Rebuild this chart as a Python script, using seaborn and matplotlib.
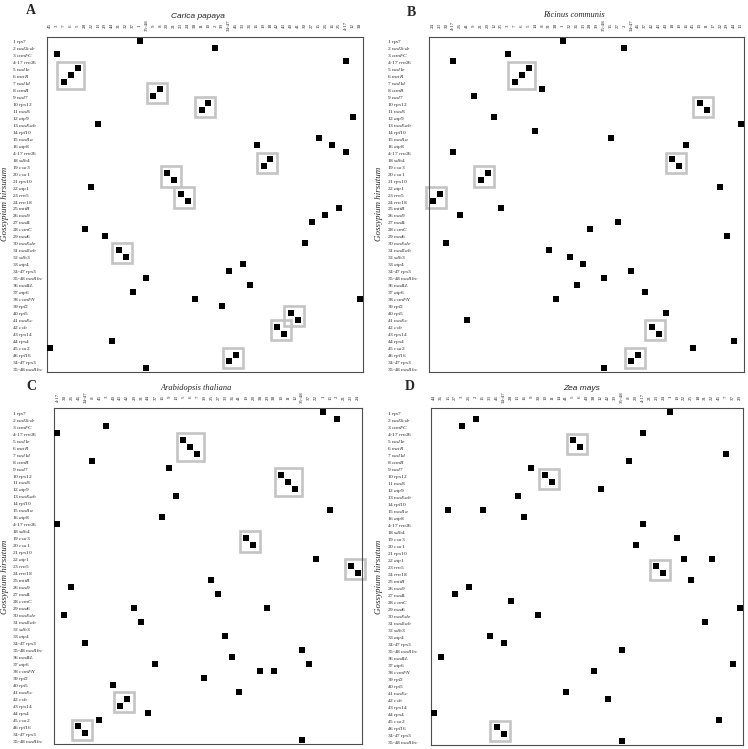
import matplotlib
matplotlib.use('Agg')
import matplotlib.pyplot as plt
import seaborn as sns
import pandas as pd
from matplotlib.patches import Rectangle

# Gene order of Gossypium hirsutum (rows, shared by all four panels)
row_num = ['1', '2', '3', '4-17', '5', '6', '7', '8', '9', '10', '11', '12', '13', '14', '15', '16',
           '4-17', '18', '19', '20', '21', '22', '23', '24', '25', '26', '27', '28', '29', '30', '31',
           '32', '33', '34-47', '35-48', '36', '37', '38', '39', '40', '41', '42', '43', '44', '45',
           '46', '34-47', '35-48']
row_gene = ['rps7', 'nad2cde', 'ccmFC', 'rrn26', 'nad1e', 'matR', 'nad1d', 'ccmB', 'nad7', 'rps12',
            'nad3', 'atp9', 'nad5ab', 'rpl10', 'nad1a', 'atp8', 'rrn26', 'sdh4', 'cox3', 'cox1',
            'rps10', 'atp1', 'rrn5', 'rrn18', 'mttB', 'nad9', 'nad4', 'ccmC', 'nad6', 'nad5de',
            'nad2ab', 'sdh3', 'atp4', 'rps3', 'nad1bc', 'nad4L', 'atp6', 'ccmFN', 'rpl2', 'rpl5',
            'nad5c', 'cob', 'rps14', 'rps4', 'cox2', 'rpl16', 'rps3', 'nad1bc']

# Carica papaya: column order and matching column(s) for every cotton row
papaya_x = ['45', '3', '7', '6', '5', '28', '22', '13', '29', '44', '31', '32', '37', '1', '35-48',
            '9', '8', '20', '21', '23', '24', '38', '11', '10', '2', '39', '34-47', '46', '33', '36',
            '16', '19', '18', '42', '43', '40', '41', '30', '27', '15', '26', '16', '25', '4-17',
            '12', '38']
papaya_hits = [[13], [24], [1], [43], [4], [3], [2], [16], [15], [23],
               [22], [44], [7], [], [39], [30, 41], [43], [32], [31], [17],
               [18], [6], [19], [20], [42], [40], [38], [5], [8], [37],
               [10], [11], [28], [26], [14], [29], [12], [21, 45], [25], [35],
               [36], [33], [34], [9], [0], [27], [26], [14]]
papaya_blocks = [(4, 6), (7, 8), (9, 10), (17, 18), (19, 20), (22, 23), (30, 31), (39, 40),
                 (41, 42), (45, 46)]

# Ricinus communis
ricinus_x = ['24', '23', '30', '4-17', '26', '41', '9', '21', '20', '12', '25', '3', '7', '6', '5',
             '14', '8', '31', '38', '1', '32', '36', '33', '28', '39', '35-48', '15', '27', '2',
             '34-47', '46', '37', '42', '43', '40', '18', '19', '16', '45', '10', '11', '17', '22',
             '29', '44', '13']
ricinus_hits = [[19], [28], [11], [3], [14], [13], [12], [16], [6], [39],
                [40], [9], [45], [15], [26], [37], [3], [35], [36], [8],
                [7], [42], [1], [0], [10], [4], [27], [23], [43], [2],
                [17], [20], [22], [29], [25], [21], [31], [18], [], [34],
                [5], [32], [33], [44], [38], [30], [29], [25]]
ricinus_blocks = [(4, 6), (9, 10), (17, 18), (19, 20), (22, 23), (41, 42), (45, 46)]

# Arabidopsis thaliana
arab_x = ['4-17', '30', '26', '46', '34-47', '8', '45', '3', '40', '43', '42', '29', '31', '44',
          '37', '16', '9', '13', '5', '6', '7', '39', '25', '27', '33', '36', '41', '19', '20',
          '38', '29', '38', '10', '11', '12', '35-48', '37', '22', '1', '15', '2', '21', '23', '24']
arab_hits = [[38], [40], [7], [0], [18], [19], [20], [5], [16], [32],
             [33], [34], [17], [], [39], [15], [0], [], [27], [28],
             [], [37], [42], [43], [22], [2], [23], [], [11, 30], [1],
             [12], [], [24], [4], [35], [25], [14, 36], [29, 31], [21], [8],
             [26], [10], [9], [13], [6], [3], [4], [35]]
arab_blocks = [(4, 6), (9, 11), (18, 19), (22, 23), (41, 42), (45, 46)]

# Zea mays
zea_x = ['44', '36', '15', '27', '3', '26', '2', '15', '33', '46', '34-47', '28', '13', '16', '9',
         '30', '10', '11', '14', '41', '5', '6', '40', '38', '12', '42', '39', '35-48', '8', '20',
         '4-17', '21', '23', '24', '1', '19', '22', '25', '18', '31', '22', '45', '7', '37', '29']
zea_hits = [[34], [6], [4], [30], [20], [21], [42], [28], [14], [16],
            [17], [24], [12], [], [2, 7], [13], [30], [], [35], [29],
            [], [36, 40], [32], [33], [37], [5], [3], [11], [44], [15],
            [39], [], [8], [10], [27], [1], [43], [23], [], [],
            [19], [25], [], [0], [41], [9], [10], [27]]
zea_blocks = [(4, 5), (9, 10), (22, 23), (45, 46)]

sns.set_style('white')
plt.rcParams['font.family'] = ['Liberation Serif', 'DejaVu Serif']
plt.rcParams['mathtext.fontset'] = 'custom'
plt.rcParams['mathtext.it'] = 'Liberation Serif:italic'
plt.rcParams['mathtext.rm'] = 'Liberation Serif'

W, H = 748, 749
fig = plt.figure(figsize=(W / 100, H / 100), dpi=100)


def px(x, y):
    # pixel position -> figure fraction
    return x / W, 1 - y / H


ylabels = [f'{n} $\\mathit{{{g}}}$' for n, g in zip(row_num, row_gene)]

panels = [
    # letter, species, x labels, hits, blocks, frame (px), title font, title/letter/ylabel pos
    ('A', 'Carica papaya', papaya_x, papaya_hits, papaya_blocks,
     (46.7, 36.7, 363.3, 372.3), 'Liberation Sans', (198, 16), (31, 11), (5, 204)),
    ('B', 'Ricinus communis', ricinus_x, ricinus_hits, ricinus_blocks,
     (429.3, 36.7, 744.3, 372.3), 'Liberation Serif', (574, 15), (411, 12), (379, 204)),
    ('C', 'Arabidopsis thaliana', arab_x, arab_hits, arab_blocks,
     (54.0, 408.3, 361.7, 744.3), 'Liberation Serif', (196, 388), (31, 387), (5, 577)),
    ('D', 'Zea mays', zea_x, zea_hits, zea_blocks,
     (430.7, 408.3, 743.3, 745.3), 'Liberation Sans', (582, 388), (410, 387), (379, 577)),
]

box_pad = 0.45
for letter, species, xlab, hits, blocks, frame, tfont, tpos, lpos, ypos in panels:
    x0, y0, x1, y1 = frame
    ax = fig.add_axes([x0 / W, 1 - y1 / H, (x1 - x0) / W, (y1 - y0) / H])

    pts = pd.DataFrame([(c, r) for r, cs in enumerate(hits) for c in cs], columns=['col', 'row'])
    sns.scatterplot(data=pts, x='col', y='row', marker='s', s=15, color='black',
                    linewidth=0, ax=ax, legend=False, zorder=3)

    # grey frames around collinear blocks
    for r0, r1 in blocks:
        cs = [c for r in range(r0, r1 + 1) for c in hits[r]]
        c0, c1 = min(cs), max(cs)
        ax.add_patch(Rectangle((c0 - 0.5 - box_pad, r0 - 0.5 - box_pad),
                               c1 - c0 + 1 + 2 * box_pad, r1 - r0 + 1 + 2 * box_pad,
                               fill=False, ec='#c4c4c4', lw=1.9, clip_on=False, zorder=2))

    ax.set_xlim(-0.5, len(xlab) - 0.5)
    ax.set_ylim(47.55, -0.55)
    ax.set_xlabel('')
    ax.set_ylabel('')

    ax.xaxis.tick_top()
    ax.set_xticks(range(len(xlab)))
    ax.set_xticklabels(xlab, rotation=90, fontsize=3.6, va='center', ha='center')
    ax.tick_params(axis='x', length=0, pad=8)

    ax.set_yticks(range(len(row_num)))
    ax.set_yticklabels(ylabels, fontsize=3.9)
    for t in ax.get_yticklabels():
        t.set_horizontalalignment('left')
    ax.tick_params(axis='y', length=0, pad=(x0 - (12 if x0 < 200 else 387)) / 1.389)

    for sp in ax.spines.values():
        sp.set_color('#4d4d4d')
        sp.set_linewidth(0.8)

    fig.text(*px(*tpos), species, fontsize=6, style='italic', family=tfont,
             ha='center', va='center')
    fig.text(*px(*lpos), letter, fontsize=10, fontweight='bold', ha='center', va='center')
    fig.text(*px(*ypos), 'Gossypium hirsutum', fontsize=6.5, style='italic', rotation=90,
             ha='center', va='center')

fig.savefig('out.png', dpi=100)
